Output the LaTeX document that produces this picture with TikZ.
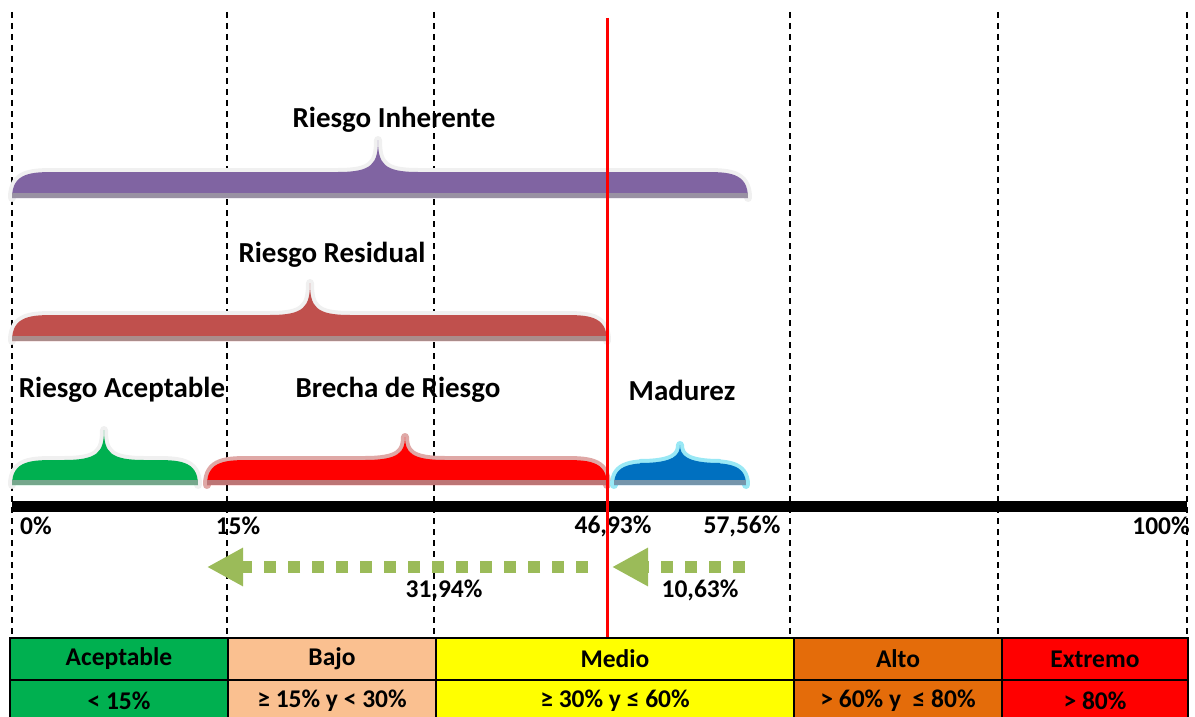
\documentclass[tikz,border=0pt]{standalone}
\usepackage{fontspec}
\setmainfont{Carlito}
\usetikzlibrary{arrows.meta}

\definecolor{inherente}{HTML}{8064A2}
\definecolor{residual}{HTML}{C0504D}
\definecolor{aceptable}{HTML}{00B050}
\definecolor{brecha}{HTML}{FF0000}
\definecolor{madurez}{HTML}{0070C0}
\definecolor{flecha}{HTML}{9BBB59}
\definecolor{bajo}{HTML}{FAC090}
\definecolor{medio}{HTML}{FFFF00}
\definecolor{alto}{HTML}{E46C0A}
\definecolor{extremo}{HTML}{FF0000}

% filled brace: left, right, tip x, tip y, flat y, base y, colour, outline
\newcommand{\riskbrace}[8]{
  \draw[#8, line width=8pt, line join=round, line cap=round]
    (#1,#6) .. controls (#1,#5) and (#1+20,#5) .. (#1+45,#5)
    -- (#3-40,#5) .. controls (#3-6,#5) and (#3,#5-8) .. (#3,#4)
    .. controls (#3,#5-8) and (#3+6,#5) .. (#3+40,#5)
    -- (#2-45,#5) .. controls (#2-20,#5) and (#2,#5) .. (#2,#6);
  \fill[#7]
    (#1,#6) .. controls (#1,#5) and (#1+20,#5) .. (#1+45,#5)
    -- (#3-40,#5) .. controls (#3-6,#5) and (#3,#5-8) .. (#3,#4)
    .. controls (#3,#5-8) and (#3+6,#5) .. (#3+40,#5)
    -- (#2-45,#5) .. controls (#2-20,#5) and (#2,#5) .. (#2,#6) -- cycle;
  \fill[#7!35!gray!80] (#1,#6-5) rectangle (#2,#6);
}

\begin{document}
\begin{tikzpicture}[x=1pt, y=-1pt,
    lbl/.style={font=\fontsize{29}{33}\selectfont\bfseries, inner sep=0pt},
    pct/.style={font=\fontsize{25.5}{30}\selectfont\bfseries, inner sep=0pt},
    cell/.style={draw=black, line width=1.6pt, minimum height=42pt, inner sep=0pt,
                 outer sep=0pt, font=\fontsize{25.5}{30}\selectfont\bfseries},
    greenarrow/.style={flecha, line width=12pt, dash pattern=on 12pt off 12pt,
                 -{Triangle[length=36pt, width=36pt]}}]
    \useasboundingbox (0,0) rectangle (1195,717);

    % draw vertical lines
    \foreach \x in {12, 227, 434, 790, 998, 1187}
    \draw[black, line width=1.4pt, dash pattern=on 6pt off 5pt] (\x,12) -- (\x,637);

    % draw braces
    \riskbrace{12}{748}{378}{140}{172}{198}{inherente}{black!6}
    \riskbrace{12}{607}{310}{283}{315}{341}{residual}{black!6}
    \riskbrace{12}{198}{104}{430}{460}{485}{aceptable}{black!6}
    \riskbrace{207}{607}{405}{437}{460}{485}{brecha}{residual!50}
    \riskbrace{614}{746}{680}{445}{463}{485}{madurez}{madurez!40!cyan!40}

    % draw brace labels
    \node[lbl] (inh) at (394,120) {Riesgo Inherente};
    \node[lbl] (res) at (332,255) {Riesgo Residual};
    \node[lbl] (acp) at (122,390) {Riesgo Aceptable};
    \node[lbl] (bre) at (398,390) {Brecha de Riesgo};
    \node[lbl] (mad) at (682,390) {Madurez};

    % draw axis
    \draw[black, line width=11pt] (12,506.5) -- (1187,506.5);
    \node[pct, anchor=west] (p0) at (20,526) {0\%};
    \node[pct] (p15) at (238,526) {15\%};
    \node[pct] (p47) at (613,526) {46,93\%};
    \node[pct] (p58) at (742,526) {57,56\%};
    \node[pct] (p100) at (1161,526) {100\%};

    % draw arrows
    \coordinate (a1) at (745,567);
    \coordinate (b1) at (612,567);
    \coordinate (a2) at (588,567);
    \coordinate (b2) at (207,567);
    \draw[greenarrow] (a1) -- (b1);
    \draw[greenarrow] (a2) -- (b2);
    \node[pct] (gap) at (444,590) {31,94\%};
    \node[pct] (mat) at (700,590) {10,63\%};

    % draw current level
    \draw[red, line width=3pt] (607,18) -- (607,637);

    % draw scale
    \node[cell, fill=aceptable, minimum width=218pt, anchor=north west] (c1) at (10,638) {Aceptable};
    \node[cell, fill=bajo, minimum width=208pt, anchor=north west] (c2) at (c1.north east) {Bajo};
    \node[cell, fill=medio, minimum width=358pt, anchor=north west] (c3) at (c2.north east) {Medio};
    \node[cell, fill=alto, minimum width=208pt, anchor=north west] (c4) at (c3.north east) {Alto};
    \node[cell, fill=extremo, minimum width=186pt, anchor=north west] (c5) at (c4.north east) {Extremo};
    \node[cell, fill=aceptable, minimum width=218pt, anchor=north west] (d1) at (c1.south west) {< 15\%};
    \node[cell, fill=bajo, minimum width=208pt, anchor=north west] (d2) at (d1.north east) {≥ 15\% y < 30\%};
    \node[cell, fill=medio, minimum width=358pt, anchor=north west] (d3) at (d2.north east) {≥ 30\% y ≤ 60\%};
    \node[cell, fill=alto, minimum width=208pt, anchor=north west] (d4) at (d3.north east) {> 60\% y \ ≤ 80\%};
    \node[cell, fill=extremo, minimum width=186pt, anchor=north west] (d5) at (d4.north east) {> 80\%};
\end{tikzpicture}
\end{document}
